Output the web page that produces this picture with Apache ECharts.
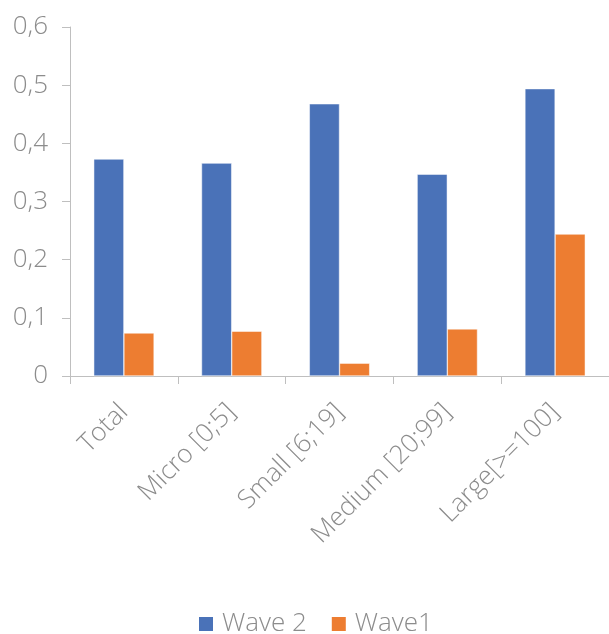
<!DOCTYPE html>
<html>
<head>
<meta charset="utf-8">
<script src="https://cdn.jsdelivr.net/npm/echarts@6/dist/echarts.min.js"></script>
<style>
  html, body { margin: 0; padding: 0; background: #fff; }
  #chart { width: 609px; height: 634px; }
</style>
</head>
<body>
<div id="chart"></div>
<script>
var categories = ['Total', 'Micro [0;5]', 'Small [6;19]', 'Medium [20;99]', 'Large[>=100]'];
var wave2 = [0.373, 0.366, 0.468, 0.347, 0.494];
var wave1 = [0.074, 0.077, 0.022, 0.081, 0.244];
var yTicks = [0, 0.1, 0.2, 0.3, 0.4, 0.5, 0.6];

var grey = '#8c8c8c';
var lineGrey = '#bfbfbf';
var font = '"Open Sans", "Noto Sans", sans-serif';

var myChart = echarts.init(document.getElementById('chart'));
myChart.setOption({
    animation: false,
    textStyle: { fontFamily: font },
    grid: {
        left: 70,
        top: 27,
        width: 543,
        bottom: 258
    },
    legend: {
        bottom: -8,
        left: 192,
        itemWidth: 16,
        itemHeight: 16,
        itemGap: 23,
        icon: 'rect',
        textStyle: {
            color: grey,
            fontSize: 26,
            fontWeight: 300,
            fontFamily: font,
            padding: [0, 0, 0, 3]
        },
        data: ['Wave 2', 'Wave1']
    },
    xAxis: {
        type: 'category',
        data: categories,
        axisLine: { lineStyle: { color: lineGrey, width: 1 } },
        axisTick: { show: true, length: 8, lineStyle: { color: lineGrey } },
        axisLabel: {
            rotate: 45,
            margin: 32,
            color: grey,
            fontSize: 26,
            fontWeight: 300,
            fontFamily: font
        }
    },
    yAxis: {
        type: 'value',
        min: yTicks[0],
        max: yTicks[yTicks.length - 1],
        interval: 0.1,
        splitLine: { show: false },
        axisLine: { show: true, lineStyle: { color: lineGrey, width: 1 } },
        axisTick: { show: true, length: 8, lineStyle: { color: lineGrey } },
        axisLabel: {
            margin: 22,
            color: grey,
            fontSize: 26,
            fontWeight: 300,
            fontFamily: font,
            formatter: function (v) {
                return String(Math.round(v * 10) / 10).replace('.', ',');
            }
        }
    },
    series: [{
        name: 'Wave 2',
        type: 'bar',
        data: wave2,
        barGap: '0%',
        barCategoryGap: '44%',
        itemStyle: { color: '#4a72b8', borderColor: '#fff', borderWidth: 0.5 }
    }, {
        name: 'Wave1',
        type: 'bar',
        data: wave1,
        itemStyle: { color: '#ed7d31', borderColor: '#fff', borderWidth: 0.5 }
    }]
});
</script>
</body>
</html>
